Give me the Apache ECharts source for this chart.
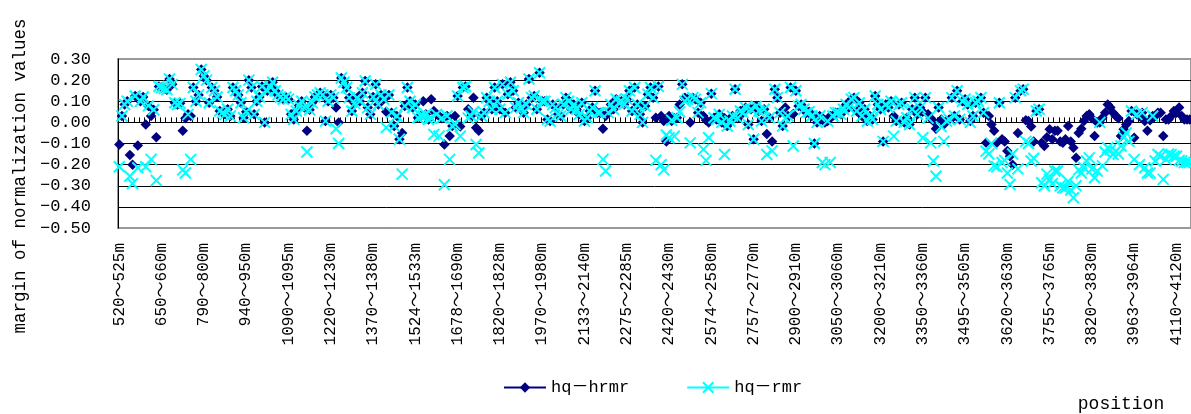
<!DOCTYPE html>
<html>
<head>
<meta charset="utf-8">
<script src="https://cdn.jsdelivr.net/npm/echarts@6/dist/echarts.min.js"></script>
<style>
  html, body { margin: 0; padding: 0; background: #fff; }
  #main { width: 1191px; height: 414px; }
</style>
</head>
<body>
<div id="main"></div>
<script>
// tick labels shown under the plot, one every 16 positions
var categories = ['520～525m','650～660m','790～800m','940～950m','1090～1095m','1220～1230m',
  '1370～1380m','1524～1533m','1678～1690m','1820～1828m','1970～1980m','2133～2140m',
  '2275～2285m','2420～2430m','2574～2580m','2757～2770m','2900～2910m','3050～3060m',
  '3200～3210m','3350～3360m','3495～3505m','3620～3630m','3755～3765m','3820～3830m',
  '3963～3964m','4110～4120m'];

var yTicks = [-0.5, -0.4, -0.3, -0.2, -0.1, 0, 0.1, 0.2, 0.3];

var hrmr = [
  -0.105,0.03,0.085,0.10,-0.155,-0.20,0.125,-0.11,0.10,0.12,
  -0.01,0.078,0.03,0.06,-0.07,0.17,0.165,0.16,0.155,0.205,
  0.18,0.093,0.085,0.09,-0.04,0.02,0.038,0.03,0.165,0.10,
  0.13,0.25,0.22,0.20,0.093,0.165,0.15,0.12,0.054,0.045,
  0.038,0.062,0.03,0.165,0.15,0.13,0.093,0.022,0.05,0.20,
  0.165,0.038,0.10,0.12,0.17,0.0,0.15,0.17,0.19,0.15,
  0.13,0.12,0.11,0.12,0.11,0.038,0.014,0.054,0.08,0.10,
  0.07,-0.04,0.06,0.093,0.12,0.13,0.14,0.13,0.006,0.10,
  0.13,0.117,0.07,0.0,0.21,0.19,0.165,0.117,0.054,0.09,
  0.117,0.10,0.14,0.196,0.07,0.038,0.12,0.18,0.085,0.13,0.11,0.05,

  0.13,0.046,-0.017,0.03,-0.08,-0.05,0.077,0.165,0.10,0.07,
  0.085,0.022,0.03,0.10,0.038,0.014,0.11,0.054,0.038,0.03,
  0.02,-0.105,0.03,-0.065,-0.017,0.03,0.125,-0.02,0.165,0.17,
  0.062,0.03,0.117,-0.025,-0.04,0.03,0.046,0.117,0.10,0.062,
  0.165,0.10,0.062,0.18,0.046,0.133,0.19,0.15,0.07,0.093,
  0.07,0.046,0.085,0.205,0.117,0.125,0.062,0.235,0.10,0.10,
  0.014,0.006,0.085,0.07,0.038,0.03,0.085,0.117,0.10,0.062,
  0.085,0.062,0.038,0.093,0.006,0.022,0.054,0.07,0.15,0.046,
  0.046,-0.03,0.03,0.046,0.085,0.062,0.11,0.093,0.10,0.085,
  0.11,0.15,0.054,0.165,0.085,0.038,0.0,0.077,0.133,0.165,0.117,0.022,

  0.17,0.03,0.006,-0.09,0.03,0.006,0.02,0.022,0.085,0.18,
  0.117,0.11,0.0,0.117,0.11,0.046,0.093,0.03,0.01,0.0,
  0.136,0.022,0.014,0.038,0.0,0.02,-0.017,0.006,0.03,0.157,
  0.02,0.054,0.046,0.07,-0.01,0.062,-0.08,0.077,0.054,0.006,
  0.062,-0.055,0.022,-0.09,0.157,0.117,0.046,-0.017,0.07,0.03,
  0.165,0.04,0.15,0.077,0.085,0.062,0.046,0.05,0.03,-0.10,
  0.0,0.03,0.022,0.0,0.006,0.03,0.03,0.046,0.046,0.038,
  0.062,0.085,0.07,0.11,0.117,0.054,0.093,0.03,0.062,0.006,
  0.03,0.014,0.125,0.085,0.062,-0.09,0.085,0.07,0.10,0.03,
  0.006,0.085,0.093,0.0,0.022,-0.01,0.062,0.117,0.038,0.07,0.05,

  0.117,0.038,0.02,0.006,-0.03,0.07,0.014,-0.01,0.006,0.014,
  0.117,0.03,0.15,0.014,0.10,0.11,0.085,0.006,0.03,0.093,
  0.10,0.117,0.046,-0.097,0.03,-0.01,-0.04,-0.097,0.093,-0.08,
  -0.09,-0.136,-0.16,-0.20,0.117,-0.05,0.15,0.157,0.01,0.006,
  -0.02,-0.09,0.054,0.062,-0.097,-0.112,-0.07,-0.033,-0.08,-0.04,
  -0.04,-0.09,-0.097,-0.08,-0.017,-0.09,-0.12,-0.168,-0.05,-0.03,
  0.006,0.03,0.038,0.02,-0.065,0.0,0.0,0.022,0.046,0.085,
  0.07,0.046,0.03,0.02,-0.065,-0.033,-0.01,0.006,0.054,-0.073,
  0.038,0.03,0.046,0.006,-0.04,0.01,0.03,0.03,0.046,0.046,
  -0.065,0.014,0.014,0.03,0.054,0.046,0.07,0.03,0.014,0.014,0.014
];

var rmr = [
  -0.21,0.03,0.085,0.10,-0.255,-0.29,0.125,-0.215,0.10,0.12,
  -0.21,0.078,-0.175,0.06,-0.275,0.17,0.165,0.16,0.155,0.205,
  0.18,0.093,0.085,0.09,-0.225,-0.24,0.038,-0.175,0.165,0.10,
  0.13,0.25,0.22,0.20,0.093,0.165,0.15,0.12,0.054,0.045,
  0.038,0.062,0.03,0.165,0.15,0.13,0.093,0.022,0.05,0.20,
  0.165,0.038,0.10,0.12,0.17,0.0,0.15,0.17,0.19,0.15,
  0.13,0.12,0.11,0.12,0.11,0.038,0.014,0.054,0.08,0.10,
  0.07,-0.14,0.06,0.093,0.12,0.13,0.14,0.13,0.006,0.10,
  0.13,0.117,-0.03,-0.10,0.21,0.19,0.165,0.117,0.054,0.09,
  0.117,0.10,0.14,0.196,0.07,0.038,0.12,0.18,0.085,0.13,0.11,-0.025,

  0.13,0.046,-0.017,0.03,-0.08,-0.245,0.077,0.165,0.10,0.07,
  0.085,0.022,0.03,0.03,0.038,0.014,0.02,-0.057,0.038,-0.065,
  0.02,-0.295,0.03,-0.175,-0.017,-0.01,0.125,-0.065,0.165,0.17,
  0.02,0.03,0.05,-0.105,-0.145,0.03,0.046,0.117,0.10,0.062,
  0.165,0.10,0.062,0.18,0.046,0.133,0.19,0.15,0.07,0.093,
  0.07,0.046,0.085,0.205,0.117,0.125,0.062,0.235,0.10,0.10,
  0.014,0.006,0.085,0.07,0.038,0.03,0.085,0.117,0.10,0.062,
  0.085,0.062,0.038,0.093,0.006,0.022,0.054,0.07,0.15,0.046,
  0.046,-0.175,-0.23,0.046,0.085,0.062,0.11,0.093,0.10,0.085,
  0.11,0.15,0.054,0.165,0.085,0.038,0.0,0.077,0.133,0.165,0.117,-0.18,

  0.17,-0.20,-0.225,-0.06,-0.073,0.01,-0.065,0.022,0.05,0.18,
  0.10,0.11,-0.097,0.117,0.11,0.046,0.093,-0.128,-0.18,-0.073,
  0.136,0.022,0.014,0.038,0.0,-0.152,-0.017,0.006,0.03,0.157,
  0.02,0.054,0.046,0.07,-0.01,0.062,-0.08,0.077,0.054,0.006,
  0.062,-0.152,0.022,-0.135,0.157,0.117,0.046,-0.017,0.02,0.03,
  0.165,-0.112,0.15,0.077,0.085,0.062,0.046,0.05,0.03,-0.10,
  0.0,0.03,-0.19,-0.20,0.006,-0.19,0.03,0.046,0.046,0.038,
  0.062,0.085,0.07,0.11,0.117,0.054,0.093,0.03,0.062,0.006,
  0.03,0.014,0.125,0.085,0.062,-0.09,0.085,0.07,0.10,-0.065,
  0.006,0.085,0.093,0.0,0.022,-0.01,0.062,0.117,0.038,0.07,-0.073,

  0.117,0.02,-0.097,-0.183,-0.255,0.07,-0.02,-0.09,0.006,0.014,
  0.117,0.03,0.15,0.014,0.10,0.11,0.085,0.0,0.03,0.093,
  0.10,0.117,0.046,-0.136,-0.15,-0.10,-0.206,-0.21,0.093,-0.19,
  -0.18,-0.24,-0.294,-0.15,0.117,-0.22,0.15,0.157,-0.09,-0.10,
  -0.183,-0.17,0.054,0.062,-0.286,-0.30,-0.245,-0.27,-0.29,-0.23,
  -0.23,-0.30,-0.31,-0.31,-0.28,-0.32,-0.357,-0.30,-0.225,-0.24,
  -0.215,-0.183,-0.168,-0.22,-0.262,-0.23,0.0,-0.206,-0.14,-0.12,
  -0.13,-0.152,-0.136,-0.15,-0.112,-0.07,-0.05,-0.09,0.054,-0.175,
  0.038,-0.20,0.046,-0.215,-0.24,-0.24,0.03,-0.183,-0.152,-0.16,
  -0.27,-0.175,-0.15,-0.152,-0.16,-0.16,-0.18,-0.183,-0.19,-0.19,-0.19
];

var FONT = "'Liberation Mono', 'Noto Sans CJK SC', monospace";

// full category list: every 16th position carries a visible label
var xData = hrmr.map(function (v, i) {
  return i % 16 === 0 && categories[i / 16] ? categories[i / 16] : '';
});

var splitColors = yTicks.map(function (t, i) {
  return (i === 0 || i === yTicks.length - 1) ? '#999' : '#000';
});

var myChart = echarts.init(document.getElementById('main'));
myChart.setOption({
  animation: false,
  backgroundColor: '#fff',
  grid: {
    left: 118, right: 0, top: 59, bottom: 186,
    show: true, borderColor: '#999', borderWidth: 2
  },
  legend: {
    left: 498, top: 374,
    itemWidth: 42, itemHeight: 13, itemGap: 57,
    textStyle: { fontFamily: FONT, fontSize: 17, color: '#000' },
    lineStyle: { opacity: 1, width: 2 },
    data: ['hq－hrmr', 'hq－rmr']
  },
  xAxis: [
    {
      type: 'category', data: xData, position: 'bottom',
      boundaryGap: true,
      axisLine: { onZero: true, lineStyle: { color: '#000', width: 1 } },
      axisTick: { show: true, inside: true, length: 5, interval: 1, lineStyle: { color: '#000' } },
      axisLabel: { show: false },
      splitLine: { show: false }
    },
    {
      type: 'category', data: xData, position: 'bottom',
      boundaryGap: true,
      axisLine: { show: false, onZero: false },
      axisTick: { show: false },
      axisLabel: {
        interval: 15, rotate: 90, margin: 15,
        fontFamily: FONT, fontSize: 16, color: '#000'
      },
      splitLine: { show: false }
    }
  ],
  yAxis: {
    type: 'value', min: -0.5, max: 0.3, interval: 0.1,
    axisLine: { show: true, lineStyle: { color: '#000', width: 1 } },
    axisTick: { show: false },
    axisLabel: {
      margin: 27, fontFamily: FONT, fontSize: 17, color: '#000',
      formatter: function (v) { return v.toFixed(2).replace('-', '−'); }
    },
    splitLine: { show: true, lineStyle: { color: splitColors, width: 1 } }
  },
  graphic: [
    {
      type: 'text', x: 20, y: 176, rotation: Math.PI / 2,
      style: {
        text: 'margin of normalization values', fontFamily: FONT, fontSize: 17.5,
        fill: '#000', align: 'center', verticalAlign: 'middle'
      }
    },
    {
      type: 'text', x: 1121, y: 404,
      style: {
        text: 'position', fontFamily: FONT, fontSize: 18,
        fill: '#000', align: 'center', verticalAlign: 'middle'
      }
    }
  ],
  series: [
    {
      name: 'hq－hrmr', type: 'line', data: hrmr,
      symbol: 'diamond', symbolSize: 10.5, showAllSymbol: true,
      itemStyle: { color: '#000080' },
      lineStyle: { opacity: 0, color: '#000080' }
    },
    {
      name: 'hq－rmr', type: 'line', data: rmr,
      symbol: 'path://M0,0L10,10M10,0L0,10', symbolSize: 11, showAllSymbol: true,
      itemStyle: { color: '#00FFFF', borderColor: '#00FFFF', borderWidth: 2 },
      lineStyle: { opacity: 0, color: '#00FFFF' }
    }
  ]
});
</script>
</body>
</html>
